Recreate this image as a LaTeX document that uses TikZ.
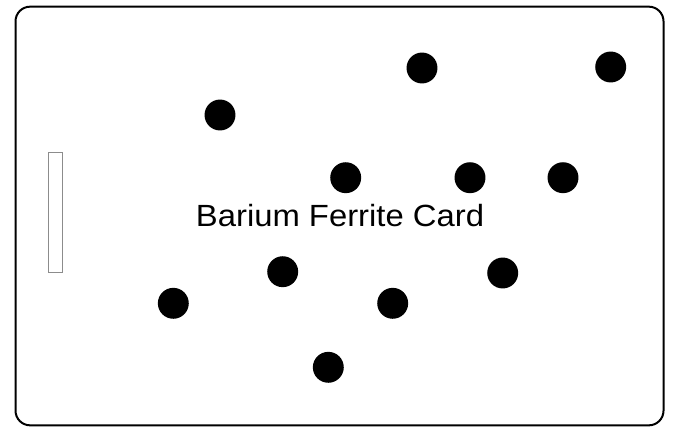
\documentclass[tikz,border=0pt]{standalone}
\usepackage{fontspec}
\setmainfont{Liberation Sans}
\usetikzlibrary{positioning}

\begin{document}
\begin{tikzpicture}[x=0.75pt,y=-0.75pt]
  \tikzset{
    card/.style={draw=black, line width=1.5pt, rounded corners=11pt, minimum width=486pt, minimum height=314pt, inner sep=0pt},
    slot/.style={draw=black!45, line width=0.8pt, minimum width=10.8pt, minimum height=90pt, inner sep=0pt},
    magnet/.style={circle, fill=black, minimum size=23.2pt, inner sep=0pt},
    title/.style={font=\fontsize{23}{27}\selectfont, inner sep=0pt, xscale=1.07}
  }
  \useasboundingbox (0,0) rectangle (673,428);

  % card outline and stripe
  \node[card] (card) at (339.5,216) {};
  \node[slot] (slot) at (55.5,212.5) {};

  % label
  \node[title, anchor=base] (label) at (340,226.5) {Barium Ferrite Card};

  % magnetic spots
  \node[magnet] (m1) at (422,68) {};
  \node[magnet] (m2) at (610.7,67) {};
  \node[magnet] (m3) at (220,115) {};
  \node[magnet] (m4) at (345.7,177.7) {};
  \node[magnet] (m5) at (470,177.7) {};
  \node[magnet] (m6) at (563,177.7) {};
  \node[magnet] (m7) at (282.7,271.7) {};
  \node[magnet] (m8) at (502.7,273) {};
  \node[magnet] (m9) at (173.3,303.3) {};
  \node[magnet] (m10) at (392.7,303.3) {};
  \node[magnet] (m11) at (328.3,367.3) {};

\end{tikzpicture}
\end{document}
